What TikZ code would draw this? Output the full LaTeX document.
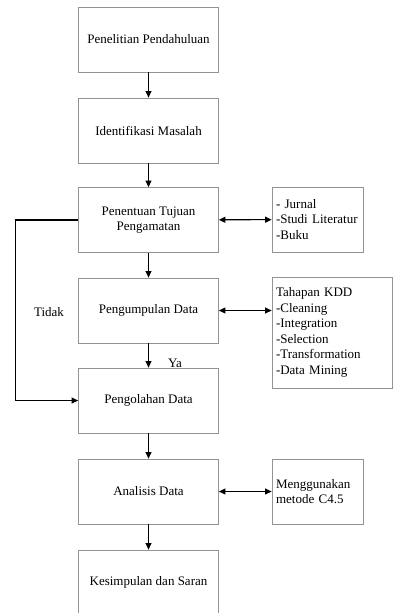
\documentclass[tikz,border=0pt]{standalone}
\usepackage{fontspec}
\setmainfont{Liberation Serif}
\usetikzlibrary{arrows.meta}
\newcommand{\hurufkotak}{\fontsize{13}{15.5}\selectfont\hyphenpenalty 10000\relax}
\begin{document}
\begin{tikzpicture}[x=1pt,y=-1pt,
    langkah/.style={draw=gray!85,line width=0.8pt,minimum width=140pt,minimum height=65pt,align=center,inner sep=0pt,font=\fontsize{13}{15.5}\selectfont},
    catatan/.style={draw=gray!85,line width=0.8pt,align=left,inner xsep=4pt,inner ysep=0pt,font=\hurufkotak},
    panah/.style={line width=1.1pt,black,-{Triangle[length=6.5pt,width=6pt]}},
    panahdua/.style={line width=1.1pt,black,{Triangle[length=6.5pt,width=6pt]}-{Triangle[length=6.5pt,width=6pt]}},
  ]
  \clip (0,0) rectangle (395,613);
  \useasboundingbox (0,0) rectangle (395,613);
    \node[langkah] at (148.5, 39.5)   (p1) {Penelitian Pendahuluan};
    \node[langkah] at (148.5, 130.5)  (p2) {Identifikasi Masalah};
    \node[langkah] at (148.5, 220)    (p3) {Penentuan Tujuan\\Pengamatan};
    \node[langkah] at (148.5, 310.5)  (p4) {Pengumpulan Data};
    \node[langkah] at (148.5, 400.5)  (p5) {Pengolahan Data};
    \node[langkah] at (148.5, 491.5)  (p6) {Analisis Data};
    \node[langkah] at (148.5, 582.5)  (p7) {Kesimpulan dan Saran};
    % kotak keterangan
    \node[catatan,text width=83pt,minimum height=65pt] at (317.5, 219.5) (ket1) {- Jurnal\\-Studi Literatur\\-Buku};
    \node[catatan,text width=112pt,minimum height=111pt] at (332, 332.5) (ket2) {Tahapan KDD\\-Cleaning\\-Integration\\-Selection\\-Transformation\\-Data Mining};
    \node[catatan,text width=83pt,minimum height=65pt] at (317.5, 491.5) (ket3) {Menggunakan\\metode C4.5};
    \node[font=\fontsize{13}{15.5}\selectfont] at (49, 312) (tidak) {Tidak};
    \node[font=\fontsize{13}{15.5}\selectfont] at (175, 363) (ya) {Ya};
  \draw[panah] (p1) -- (p2);
  \draw[panah] (p2) -- (p3);
  \draw[panah] (p3) -- (p4);
  \draw[panah] (p4) -- (p5);
  \draw[panah] (p5) -- (p6);
  \draw[panah] (p6) -- (p7);
  \draw[panahdua] (p3) -- (ket1);
  \draw[panahdua] (p4.east) -- (p4.east -| ket2.west);
  \draw[panahdua] (p6) -- (ket3);
  \draw[panah] (p3.west) -- ++(-63,0) |- (p5.west);
  \end{tikzpicture}
\end{document}
